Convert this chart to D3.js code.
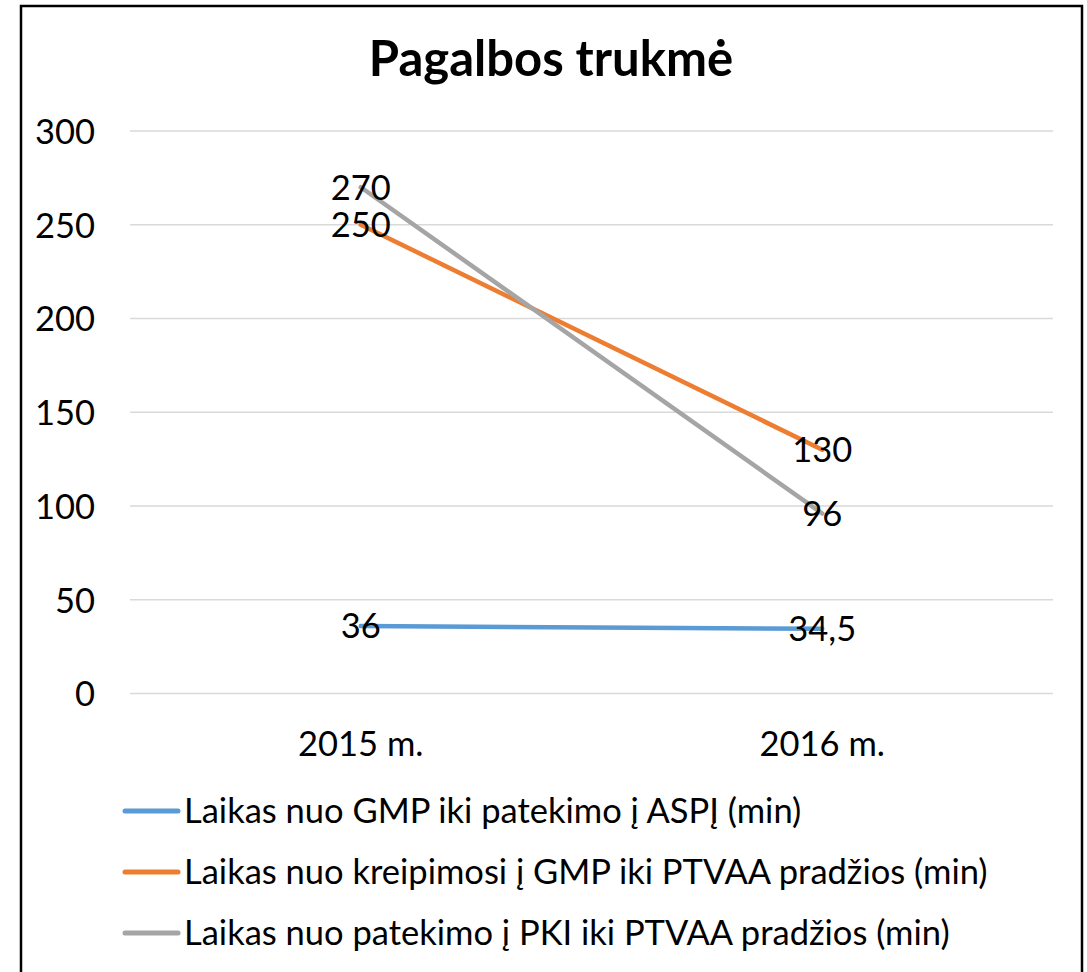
<!DOCTYPE html>
<html><head><meta charset="utf-8">
<script src="https://cdn.jsdelivr.net/npm/d3@7"></script>
<style>body{margin:0;background:#fff;} svg{display:block;}</style>
</head><body>
<script>
const categories = ["2015 m.", "2016 m."];
const seriesNames = [
  "Laikas nuo GMP iki patekimo į ASPĮ (min)",
  "Laikas nuo kreipimosi į GMP iki PTVAA pradžios (min)",
  "Laikas nuo patekimo į PKI iki PTVAA pradžios (min)"
];
const seriesGMP = [36, 34.5];
const seriesKreip = [250, 130];
const seriesPKI = [270, 96];
const yTicks = [0, 50, 100, 150, 200, 250, 300];
const title = "Pagalbos trukmė";

const colors = ["#5B9BD5", "#ED7D31", "#A5A5A5"];
const series = [seriesGMP, seriesKreip, seriesPKI];
const font = "Lato, 'Open Sans', sans-serif";
const fs = 34.5;

const W = 1087, H = 972;
const svg = d3.select("body").append("svg").attr("width", W).attr("height", H);
svg.append("rect").attr("width", W).attr("height", H).attr("fill", "#fff");
// outer border (no bottom edge visible)
svg.append("path").attr("d", "M21,980 L21,6 L1082,6 L1082,980")
  .attr("fill", "none").attr("stroke", "#000").attr("stroke-width", 2.5);

svg.append("text").attr("x", 551).attr("y", 76).attr("text-anchor", "middle")
  .attr("font-family", font).attr("font-weight", "bold").attr("font-size", 49)
  .text(title);

const x = d3.scaleBand().domain(categories).range([130, 1053]);
const y = d3.scaleLinear().domain([0, 300]).range([693.5, 131]);

// gridlines
svg.append("g").selectAll("line").data(yTicks).join("line")
  .attr("x1", 130).attr("x2", 1053)
  .attr("y1", d => y(d)).attr("y2", d => y(d))
  .attr("stroke", "#d9d9d9").attr("stroke-width", 1.5);

// y axis
const yAxis = svg.append("g").attr("transform", "translate(95,0)")
  .call(d3.axisLeft(y).tickValues(yTicks).tickSize(0).tickPadding(0));
yAxis.select(".domain").remove();
yAxis.selectAll("text").attr("font-family", font).attr("font-size", fs).attr("fill", "#000").attr("dy", "0.36em");

// x axis
const xAxis = svg.append("g").attr("transform", "translate(0,693.5)")
  .call(d3.axisBottom(x).tickSize(0).tickPadding(0));
xAxis.select(".domain").remove();
xAxis.selectAll("text").attr("font-family", font).attr("font-size", fs).attr("fill", "#000")
  .attr("dy", "0").attr("y", 62);

const line = d3.line().x((d, i) => x(categories[i]) + x.bandwidth() / 2).y(d => y(d));
series.forEach((s, k) => {
  svg.append("path").datum(s).attr("d", line).attr("fill", "none")
    .attr("stroke", colors[k]).attr("stroke-width", 4.5).attr("stroke-linecap", "round");
});
series.forEach((s, k) => {
  svg.append("g").selectAll("text").data(s).join("text")
    .attr("x", (d, i) => x(categories[i]) + x.bandwidth() / 2)
    .attr("y", d => y(d)).attr("dy", "0.36em").attr("text-anchor", "middle")
    .attr("font-family", font).attr("font-size", fs).attr("fill", "#000")
    .text(d => String(d).replace(".", ","));
});

// legend
const legendY = [811, 872, 933];
const lg = svg.append("g").selectAll("g").data(seriesNames).join("g")
  .attr("transform", (d, i) => `translate(0,${legendY[i]})`);
lg.append("line").attr("x1", 125).attr("x2", 178).attr("y1", 0).attr("y2", 0)
  .attr("stroke", (d, i) => colors[i]).attr("stroke-width", 5).attr("stroke-linecap", "round");
lg.append("text").attr("x", 184).attr("y", 0).attr("dy", "0.36em")
  .attr("font-family", font).attr("font-size", fs).attr("fill", "#000").text(d => d);
</script>
</body></html>
